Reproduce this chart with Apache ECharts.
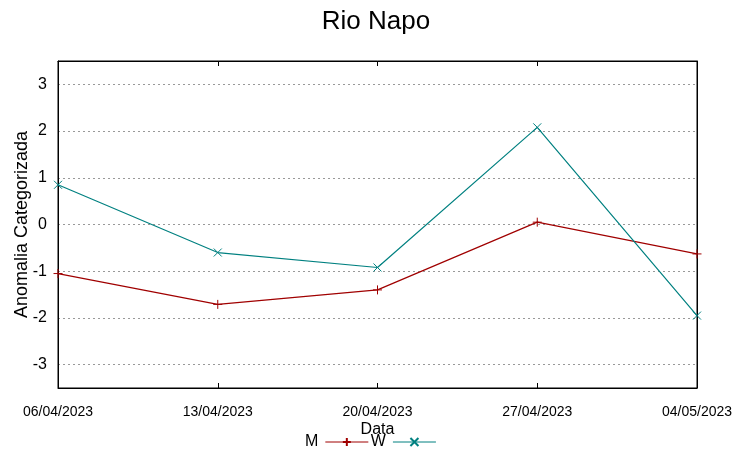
<!DOCTYPE html>
<html><head><meta charset="utf-8">
<script src="https://cdn.jsdelivr.net/npm/echarts@6/dist/echarts.min.js"></script>
<style>html,body{margin:0;padding:0;background:#fff}#c{width:752px;height:458px}</style>
</head><body><div id="c"></div>
<script>
var categories = ['06/04/2023','13/04/2023','20/04/2023','27/04/2023','04/05/2023'];
var seriesM = [-1.05, -1.71, -1.40, 0.05, -0.63];
var seriesW = [0.85, -0.60, -0.92, 2.08, -1.95];
var FONT = 'Liberation Sans';
var cM = '#a00000', cW = '#008080';
var plus = 'path://M0,5L10,5M5,0L5,10';
var cross = 'path://M0,0L10,10M10,0L0,10';
var chart = echarts.init(document.getElementById('c'));
chart.setOption({
  animation: false,
  textStyle: {fontFamily: FONT},
  title: {text: 'Rio Napo', left: 'center', top: 4, textStyle: {fontFamily: FONT, fontSize: 26, fontWeight: 'normal', color: '#000'}},
  grid: {left: 58, right: 55, top: 61, bottom: 70, show: true, borderColor: '#000', borderWidth: 1, containLabel: false, outerBoundsMode: 'none'},
  legend: {
    bottom: 3, left: 300, align: 'right', itemWidth: 43, itemHeight: 10, itemGap: 2,
    lineStyle: {width: 1},
    textStyle: {fontFamily: FONT, fontSize: 16, color: '#000', padding: [0, 2, 0, 0]},
    data: ['M', 'W']
  },
  xAxis: [{
    type: 'category', data: categories, boundaryGap: false,
    name: 'Data', nameLocation: 'middle', nameGap: 34, nameMoveOverlap: false,
    nameTextStyle: {fontFamily: FONT, fontSize: 16, color: '#000'},
    axisLine: {onZero: false, lineStyle: {color: '#000'}},
    axisTick: {inside: true, length: 5, lineStyle: {color: '#000'}},
    axisLabel: {fontFamily: FONT, fontSize: 14, color: '#000', margin: 17},
    splitLine: {show: false}
  }, {
    type: 'category', data: categories, boundaryGap: false, position: 'top',
    axisLine: {onZero: false, lineStyle: {color: '#000'}},
    axisTick: {inside: true, length: 5, lineStyle: {color: '#000'}},
    axisLabel: {show: false}, splitLine: {show: false}
  }],
  yAxis: [{
    type: 'value', min: -3.5, max: 3.5, splitNumber: 7,
    name: 'Anomalia Categorizada', nameLocation: 'middle', nameGap: 27, nameMoveOverlap: false,
    nameTextStyle: {fontFamily: FONT, fontSize: 18, color: '#000'},
    axisLine: {show: true, onZero: false, lineStyle: {color: '#000'}},
    axisTick: {inside: true, length: 5, lineStyle: {color: '#000'}},
    axisLabel: {fontFamily: FONT, fontSize: 16, color: '#000', margin: 11, showMinLabel: false, showMaxLabel: false},
    splitLine: {show: true, lineStyle: {color: '#999', type: [2, 3], width: 1}}
  }, {
    type: 'value', min: -3.5, max: 3.5, splitNumber: 7, position: 'right',
    axisLine: {show: true, onZero: false, lineStyle: {color: '#000'}},
    axisTick: {inside: true, length: 5, lineStyle: {color: '#000'}},
    axisLabel: {show: false}, splitLine: {show: false}
  }],
  series: [{
    name: 'M', type: 'line', data: seriesM, symbol: plus, symbolSize: 9,
    lineStyle: {color: cM, width: 1.2},
    itemStyle: {color: cM, borderColor: cM, borderWidth: 1}
  }, {
    name: 'W', type: 'line', data: seriesW, symbol: cross, symbolSize: 8,
    lineStyle: {color: cW, width: 1.2},
    itemStyle: {color: cW, borderColor: cW, borderWidth: 1}
  }]
});
</script></body></html>
